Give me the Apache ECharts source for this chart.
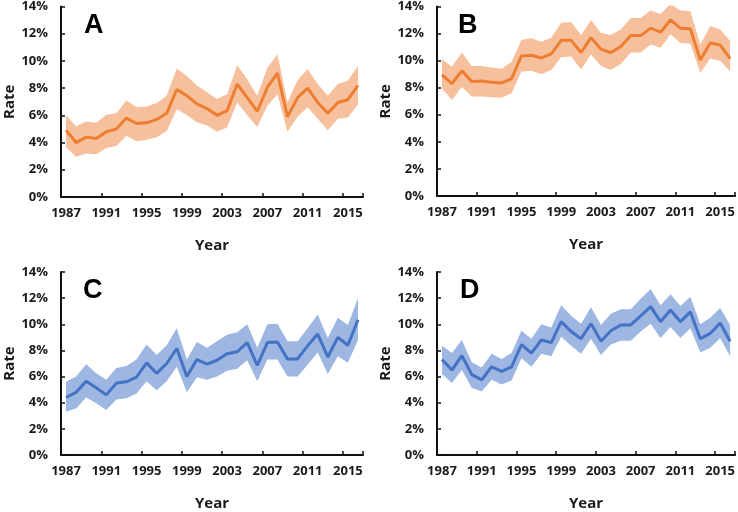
<!DOCTYPE html>
<html><head><meta charset="utf-8">
<script src="https://cdn.jsdelivr.net/npm/echarts@6/dist/echarts.min.js"></script>
<style>html,body{margin:0;padding:0;background:#fff}#c{width:738px;height:512px}</style>
</head><body><div id="c"></div>
<script>
const years = [1987,1988,1989,1990,1991,1992,1993,1994,1995,1996,1997,1998,1999,2000,2001,2002,2003,2004,2005,2006,2007,2008,2009,2010,2011,2012,2013,2014,2015,2016].map(String);
const yTicks = [0,2,4,6,8,10,12,14];

const aRate  = [4.9,4.0,4.4,4.3,4.8,5.0,5.8,5.4,5.45,5.7,6.15,7.9,7.45,6.85,6.5,6.0,6.35,8.3,7.3,6.3,8.05,9.1,5.9,7.3,8.0,6.95,6.15,6.95,7.15,8.2];
const aUpper = [6.0,5.2,5.55,5.45,6.05,6.15,7.1,6.6,6.65,6.9,7.45,9.45,8.9,8.2,7.7,7.2,7.55,9.7,8.65,7.45,9.5,10.5,6.95,8.6,9.4,8.3,7.45,8.3,8.55,9.65];
const aLower = [3.65,2.95,3.2,3.15,3.6,3.75,4.5,4.1,4.2,4.4,4.85,6.45,6.0,5.5,5.25,4.8,5.1,6.95,6.0,5.15,6.7,7.55,4.8,5.9,6.6,5.75,4.9,5.75,5.85,6.8];

const bRate  = [8.95,8.3,9.25,8.45,8.5,8.4,8.35,8.65,10.35,10.4,10.2,10.5,11.5,11.5,10.6,11.7,10.85,10.6,11.05,11.85,11.85,12.4,12.1,13.0,12.4,12.35,10.05,11.3,11.15,10.15];
const bUpper = [10.1,9.55,10.6,9.6,9.6,9.5,9.4,9.9,11.55,11.65,11.4,11.7,12.8,12.85,11.9,13.0,12.05,11.9,12.3,13.15,13.15,13.7,13.45,14.2,13.7,13.65,11.2,12.55,12.3,11.45];
const bLower = [7.95,7.1,8.05,7.35,7.35,7.3,7.25,7.6,9.2,9.25,9.0,9.3,10.25,10.3,9.35,10.45,9.6,9.3,9.75,10.6,10.6,11.2,10.95,11.95,11.3,11.25,9.1,10.15,10.0,9.2];

const cRate  = [4.4,4.8,5.65,5.15,4.6,5.5,5.6,5.95,7.05,6.25,7.0,8.15,6.0,7.3,6.95,7.25,7.75,7.9,8.6,6.85,8.6,8.65,7.35,7.35,8.35,9.25,7.5,9.0,8.4,10.35];
const cUpper = [5.6,6.0,6.95,6.25,5.75,6.65,6.8,7.3,8.45,7.65,8.4,9.7,7.3,8.65,8.2,8.7,9.2,9.4,10.0,8.2,10.0,10.05,8.7,8.7,9.7,10.75,8.95,10.5,9.95,12.0];
const cLower = [3.3,3.55,4.4,3.95,3.45,4.25,4.35,4.7,5.65,4.95,5.65,6.75,4.8,5.95,5.75,6.0,6.45,6.6,7.25,5.65,7.3,7.3,6.0,6.0,6.9,7.85,6.2,7.55,7.05,8.8];

const dRate  = [7.3,6.5,7.6,6.15,5.75,6.75,6.4,6.75,8.45,7.8,8.8,8.6,10.2,9.45,8.9,10.05,8.7,9.5,9.95,9.95,10.65,11.35,10.2,11.1,10.2,10.95,8.9,9.3,10.1,8.7];
const dUpper = [8.35,7.8,8.8,7.1,6.7,7.75,7.35,7.8,9.5,8.9,10.0,9.75,11.45,10.65,10.05,11.3,9.95,10.8,11.15,11.15,11.95,12.7,11.45,12.3,11.4,12.1,10.0,10.5,11.25,9.95];
const dLower = [6.2,5.5,6.5,5.15,4.85,5.75,5.4,5.7,7.4,6.75,7.75,7.55,9.05,8.35,7.75,8.9,7.65,8.45,8.75,8.75,9.45,10.05,8.95,9.8,8.95,9.7,7.85,8.2,8.95,7.55];

const panels = [
  {label:'A', rate:aRate, up:aUpper, lo:aLower, line:'#ED7D31', band:'#F7C09C', grid:{left:61, top:5, width:302, height:192}, lx:95, ly:27},
  {label:'B', rate:bRate, up:bUpper, lo:bLower, line:'#ED7D31', band:'#F7C09C', grid:{left:437, top:5, width:301, height:191}, lx:469, ly:27},
  {label:'C', rate:cRate, up:cUpper, lo:cLower, line:'#4472C4', band:'#9DB6E2', grid:{left:61, top:272, width:302, height:191}, lx:94, ly:292},
  {label:'D', rate:dRate, up:dUpper, lo:dLower, line:'#4472C4', band:'#9DB6E2', grid:{left:437, top:272, width:301, height:191}, lx:471, ly:292}
];

const FONT = '"Open Sans", Lato, sans-serif';
const option = {animation:false, grid:[], xAxis:[], yAxis:[], series:[], graphic:[]};
panels.forEach((p,i)=>{
  option.grid.push(Object.assign({containLabel:false}, p.grid));
  option.xAxis.push({
    type:'category', gridIndex:i, data:years, boundaryGap:true,
    name:'Year', nameLocation:'middle', nameGap:41,
    nameTextStyle:{fontFamily:FONT, fontWeight:'bold', fontSize:15, color:'#1a1a1a'},
    axisLine:{lineStyle:{color:'#111', width:2}},
    axisTick:{show:true, inside:true, length:4, interval:3, lineStyle:{color:'#111', width:1.5}},
    axisLabel:{interval:3, margin:10, fontFamily:FONT, fontWeight:'bold', fontSize:13, color:'#1a1a1a'},
    splitLine:{show:false}
  });
  option.yAxis.push({
    type:'value', gridIndex:i, min:yTicks[0], max:yTicks[yTicks.length-1], interval:2,
    name:'Rate', nameLocation:'middle', nameGap:44,
    nameTextStyle:{fontFamily:FONT, fontWeight:'bold', fontSize:15, color:'#1a1a1a'},
    axisLine:{show:true, lineStyle:{color:'#111', width:2}},
    axisTick:{show:true, inside:true, length:4, lineStyle:{color:'#111', width:1.5}},
    axisLabel:{margin:13, formatter:'{value}%', fontFamily:FONT, fontWeight:'bold', fontSize:13, color:'#1a1a1a'},
    splitLine:{show:false}
  });
  option.series.push({
    type:'line', xAxisIndex:i, yAxisIndex:i, data:p.lo, stack:'band'+i,
    symbol:'none', lineStyle:{opacity:0}, silent:true
  });
  option.series.push({
    type:'line', xAxisIndex:i, yAxisIndex:i, data:p.up.map((v,k)=>+(v-p.lo[k]).toFixed(3)), stack:'band'+i,
    symbol:'none', lineStyle:{opacity:0}, areaStyle:{color:p.band, opacity:1}, silent:true
  });
  option.series.push({
    type:'line', xAxisIndex:i, yAxisIndex:i, data:p.rate,
    symbol:'none', lineStyle:{color:p.line, width:3}, z:5
  });
  option.graphic.push({
    type:'text', left:p.lx-11, top:p.ly-15,
    style:{text:p.label, font:'bold 27px "Liberation Sans", Arial, sans-serif', fill:'#000'}
  });
});
const chart = echarts.init(document.getElementById('c'), null, {renderer:'canvas'});
chart.setOption(option);
</script>
</body></html>
